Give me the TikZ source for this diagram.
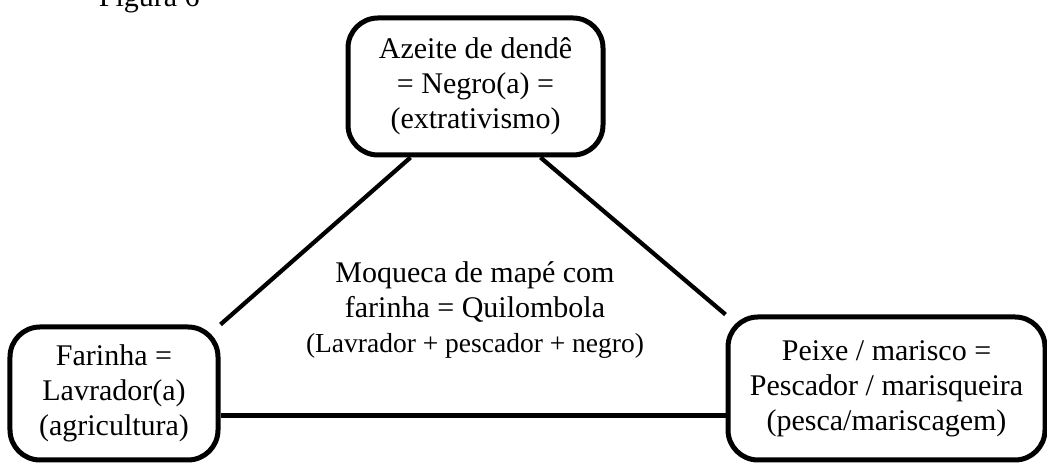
\documentclass[tikz,border=0pt]{standalone}
\usepackage{fontspec}
\setmainfont{Liberation Serif}
\usetikzlibrary{backgrounds}

\tikzstyle{caixa} = [draw, line width=2pt, rounded corners=12pt, fill=white,
	align=center, inner sep=0pt, font=\fontsize{12}{14}\selectfont]
\tikzstyle{ligacao} = [line width=1.7pt]

\begin{document}
\begin{tikzpicture}[x=0.4pt,y=0.4pt]
\useasboundingbox (0,0) rectangle (1047,464);
\node [anchor=base west, font=\fontsize{12}{14}\selectfont] (titulo) at (90,457) {Figura 6};
\node [caixa, minimum width=102pt, minimum height=54.8pt] (dende) at (475.5,377.5)
	{Azeite de dendê\\ = Negro(a) =\\ (extrativismo)};
\node [caixa, minimum width=83.2pt, minimum height=53.2pt] (farinha) at (114,70.5)
	{Farinha =\\ Lavrador(a)\\ (agricultura)};
\node [caixa, minimum width=126.8pt, minimum height=57.2pt] (peixe) at (886.5,75.5)
	{Peixe / marisco =\\ Pescador / marisqueira\\ (pesca/mariscagem)};
\node [align=center, inner sep=0pt, font=\fontsize{12}{14}\selectfont] (moqueca) at (475,154)
	{Moqueca de mapé com\\ farinha = Quilombola\\
	{\fontsize{11}{12.8}\selectfont (Lavrador + pescador + negro)}};
\begin{scope}[on background layer]
\draw[ligacao] ([xshift=-26pt]dende.south) -- (farinha.north east);
\draw[ligacao] ([xshift=26pt]dende.south) -- (peixe.north west);
\draw[ligacao] ([yshift=-8.8pt]farinha.east) -- ([yshift=-8.8pt]farinha.east -| peixe.west);
\end{scope}
\end{tikzpicture}
\end{document}
